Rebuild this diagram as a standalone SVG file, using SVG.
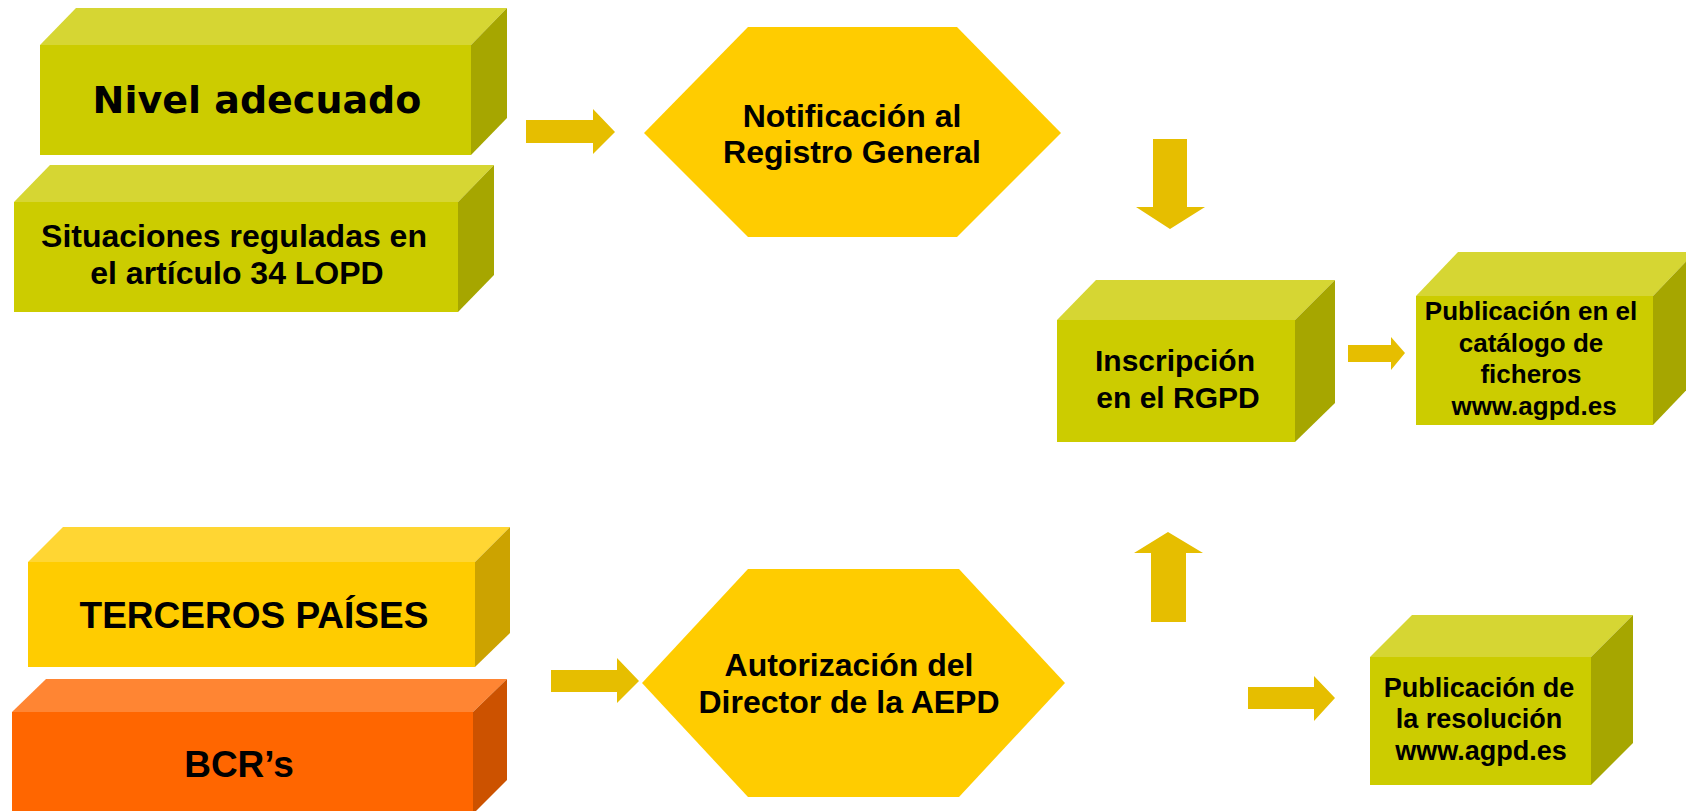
<svg xmlns="http://www.w3.org/2000/svg" width="1686" height="811" viewBox="0 0 1686 811">
<style>
.gf{fill:#CCCC00}.gt{fill:#D6D633}.gs{fill:#A6A600}
.yf{fill:#FFCC00}.yt{fill:#FFD633}.ys{fill:#CCA300}
.of{fill:#FF6600}.ot{fill:#FF8533}.os{fill:#CC5200}
.hex{fill:#FFCC00}
.arr{fill:#E6BE00}
text{font-family:"Liberation Sans",Arial,sans-serif;font-weight:bold;fill:#000;text-anchor:middle}
.big{font-family:"DejaVu Sans","Liberation Sans",sans-serif;font-size:38px}
.t32{font-size:32px}.t30{font-size:30px}.t27{font-size:27px}.t26{font-size:26px}.t37{font-size:37px}
</style>
<rect width="1686" height="811" fill="#FFFFFF"/>
<g id="connectors">
<path class="arr" d="M526,120 H593 V109 L615,132 L593,154 V143 H526 Z"/>
<path class="arr" d="M1153,139 H1187 V207 H1205 L1170,229 L1136,207 H1153 Z"/>
<path class="arr" d="M1348,345 H1391 V337 L1405,353 L1391,370 V362 H1348 Z"/>
<path class="arr" d="M551,670 H617 V658 L639,681 L617,703 V692 H551 Z"/>
<path class="arr" d="M1151,622 V553 H1134 L1168,532 L1203,553 H1186 V622 Z"/>
<path class="arr" d="M1248,687 H1314 V676 L1335,698 L1314,721 V709 H1248 Z"/>
</g>
<g id="nivel">
<rect class="gf" x="40" y="45" width="431" height="110"/>
<polygon class="gt" points="40,45 76,8 507,8 471,45"/>
<polygon class="gs" points="471,45 507,8 507,118 471,155"/>
<text class="big" x="257" y="113">Nivel adecuado</text>
</g>
<g id="situaciones">
<rect class="gf" x="14" y="202" width="444" height="110"/>
<polygon class="gt" points="14,202 50,165 494,165 458,202"/>
<polygon class="gs" points="458,202 494,165 494,275 458,312"/>
<text class="t32" x="234" y="247">Situaciones reguladas en</text>
<text class="t32" x="237" y="284">el artículo 34 LOPD</text>
</g>
<g id="notificacion">
<polygon class="hex" points="644,133 748,27 957,27 1061,133 957,237 748,237"/>
<text class="t32" x="852" y="127">Notificación al</text>
<text class="t32" x="852" y="163">Registro General</text>
</g>
<g id="inscripcion">
<rect class="gf" x="1057" y="320" width="238" height="122"/>
<polygon class="gt" points="1057,320 1096,280 1335,280 1295,320"/>
<polygon class="gs" points="1295,320 1335,280 1335,403 1295,442"/>
<text class="t30" x="1175" y="371">Inscripción</text>
<text class="t30" x="1178" y="408">en el RGPD</text>
</g>
<g id="catalogo">
<rect class="gf" x="1416" y="296" width="237" height="129"/>
<polygon class="gt" points="1416,296 1458,252 1695,252 1653,296"/>
<polygon class="gs" points="1653,296 1695,252 1695,381 1653,425"/>
<text class="t26" x="1531" y="320">Publicación en el</text>
<text class="t26" x="1531" y="352">catálogo de</text>
<text class="t26" x="1531" y="383">ficheros</text>
<text class="t26" x="1534" y="415">www.agpd.es</text>
</g>
<g id="terceros">
<rect class="yf" x="28" y="562" width="447" height="105"/>
<polygon class="yt" points="28,562 63,527 510,527 475,562"/>
<polygon class="ys" points="475,562 510,527 510,633 475,667"/>
<text class="t37" x="254" y="628">TERCEROS PAÍSES</text>
</g>
<g id="bcrs">
<rect class="of" x="12" y="712" width="461" height="110"/>
<polygon class="ot" points="12,712 46,679 507,679 473,712"/>
<polygon class="os" points="473,712 507,679 507,780 473,814"/>
<text class="t37" x="239" y="777">BCR’s</text>
</g>
<g id="autorizacion">
<polygon class="hex" points="642,683 748,569 959,569 1065,683 959,797 748,797"/>
<text class="t32" x="849" y="676">Autorización del</text>
<text class="t32" x="849" y="713">Director de la AEPD</text>
</g>
<g id="resolucion">
<rect class="gf" x="1370" y="657" width="221" height="128"/>
<polygon class="gt" points="1370,657 1412,615 1633,615 1591,657"/>
<polygon class="gs" points="1591,657 1633,615 1633,743 1591,785"/>
<text class="t27" x="1479" y="697">Publicación de</text>
<text class="t27" x="1479" y="728">la resolución</text>
<text class="t27" x="1481" y="760">www.agpd.es</text>
</g>
</svg>
